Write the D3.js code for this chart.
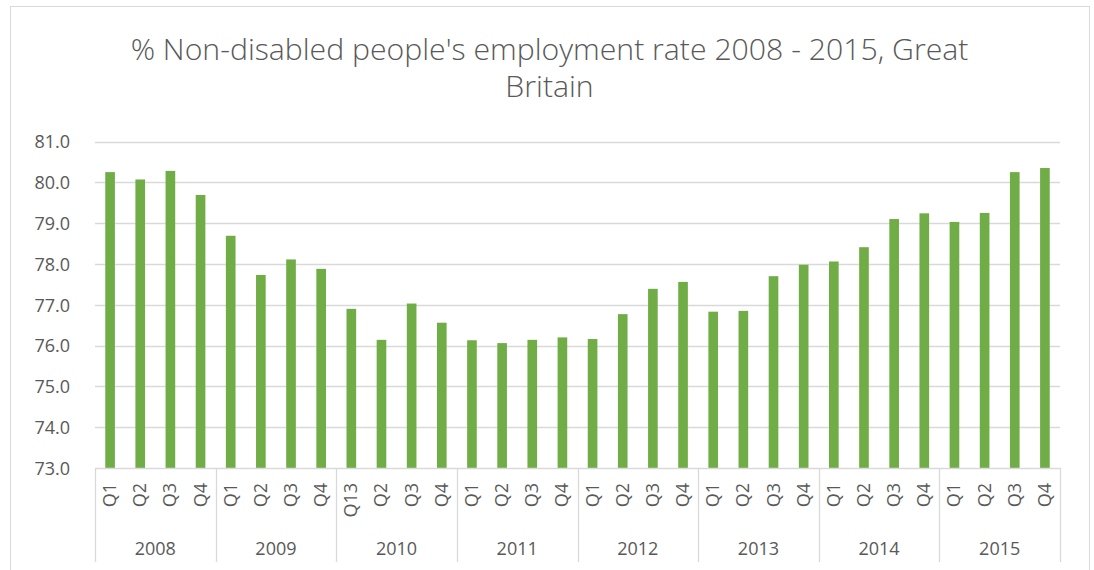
<!DOCTYPE html>
<html>
<head>
<meta charset="utf-8">
<script src="https://cdn.jsdelivr.net/npm/d3@7"></script>
<style>
  html, body { margin: 0; padding: 0; background: #fff; }
  svg { display: block; }
  text { font-family: "Open Sans", "Liberation Sans", sans-serif; fill: #595959; }
</style>
</head>
<body>
<svg id="chart" width="1094" height="570"></svg>
<script>
// Years shown on the outer category axis
const years = ["2008", "2009", "2010", "2011", "2012", "2013", "2014", "2015"];
// Quarter labels on the inner category axis, per year
const quarterLabels = [
  ["Q1", "Q2", "Q3", "Q4"],
  ["Q1", "Q2", "Q3", "Q4"],
  ["Q13", "Q2", "Q3", "Q4"],
  ["Q1", "Q2", "Q3", "Q4"],
  ["Q1", "Q2", "Q3", "Q4"],
  ["Q1", "Q2", "Q3", "Q4"],
  ["Q1", "Q2", "Q3", "Q4"],
  ["Q1", "Q2", "Q3", "Q4"]
];
// Employment rate (%) for non-disabled people, quarter by quarter
const rates = [
  80.25, 80.07, 80.28, 79.69,
  78.69, 77.73, 78.11, 77.88,
  76.90, 76.14, 77.03, 76.56,
  76.13, 76.06, 76.14, 76.20,
  76.16, 76.77, 77.39, 77.56,
  76.83, 76.85, 77.70, 77.98,
  78.06, 78.41, 79.10, 79.24,
  79.03, 79.25, 80.25, 80.35
];
// Value axis ticks
const yTicks = [73, 74, 75, 76, 77, 78, 79, 80, 81];

const titleLines = ["% Non-disabled people's employment rate 2008 - 2015, Great", "Britain"];

const svg = d3.select("#chart");
const W = 1094, H = 570;
const grid = "#d9d9d9";

// chart frame
svg.append("rect")
  .attr("x", 10.5).attr("y", 6.5)
  .attr("width", 1079).attr("height", 600)
  .attr("fill", "none").attr("stroke", grid).attr("stroke-width", 1);

const plot = { left: 95, right: 1060, top: 141.5, bottom: 468 };

const rows = [];
years.forEach((yr, gi) => {
  quarterLabels[gi].forEach((q, qi) => {
    rows.push({ key: yr + "-" + qi, year: yr, q: q, value: rates[gi * 4 + qi] });
  });
});

const x = d3.scaleBand()
  .domain(rows.map(d => d.key))
  .range([plot.left, plot.right])
  .paddingInner(0.68)
  .paddingOuter(0.34);

const y = d3.scaleLinear()
  .domain([73, 81])
  .range([plot.bottom, plot.top]);

// gridlines
svg.append("g")
  .selectAll("line")
  .data(yTicks.filter(t => t !== 73))
  .join("line")
  .attr("x1", plot.left).attr("x2", plot.right)
  .attr("y1", d => Math.round(y(d)) + 0.5)
  .attr("y2", d => Math.round(y(d)) + 0.5)
  .attr("stroke", grid).attr("stroke-width", 1.3);

// y axis labels
const yAxis = d3.axisLeft(y).tickValues(yTicks).tickFormat(d3.format(".1f")).tickSize(0).tickPadding(0);
const gy = svg.append("g").attr("transform", `translate(${plot.left - 25},0)`).call(yAxis);
gy.select(".domain").remove();
gy.selectAll("text")
  .style("font-size", "18px")
  .attr("fill", "#595959")
  .attr("dy", "0.35em");

// bars
svg.append("g")
  .selectAll("rect")
  .data(rows)
  .join("rect")
  .attr("x", d => x(d.key))
  .attr("width", x.bandwidth())
  .attr("y", d => y(d.value))
  .attr("height", d => y(73) - y(d.value))
  .attr("fill", "#70ad47");

// category axis base line
svg.append("line")
  .attr("x1", plot.left).attr("x2", plot.right)
  .attr("y1", plot.bottom + 0.5).attr("y2", plot.bottom + 0.5)
  .attr("stroke", grid).attr("stroke-width", 1.3);

// year group separators
const step = x.step();
const groupEdges = d3.range(years.length + 1).map(i => plot.left + i * 4 * (plot.right - plot.left) / rows.length);
svg.append("g")
  .selectAll("line")
  .data(groupEdges)
  .join("line")
  .attr("x1", d => Math.round(d) + 0.5).attr("x2", d => Math.round(d) + 0.5)
  .attr("y1", plot.bottom).attr("y2", 562)
  .attr("stroke", grid).attr("stroke-width", 1.3);

// quarter labels, rotated
svg.append("g")
  .selectAll("text")
  .data(rows)
  .join("text")
  .attr("transform", d => `translate(${x(d.key) + x.bandwidth() / 2 + 6},483) rotate(-90)`)
  .attr("text-anchor", "end")
  .style("font-size", "18px")
  .text(d => d.q);

// year labels
svg.append("g")
  .selectAll("text")
  .data(years)
  .join("text")
  .attr("x", (d, i) => (groupEdges[i] + groupEdges[i + 1]) / 2)
  .attr("y", 555)
  .attr("text-anchor", "middle")
  .style("font-size", "18px")
  .text(d => d);

// title
const title = svg.append("g");
const t1 = title.append("text")
  .attr("x", 549.5).attr("y", 60)
  .attr("text-anchor", "middle")
  .style("font-size", "28px")
  .style("font-weight", 300)
  .text(titleLines[0]);
const len = t1.node().getComputedTextLength();
const fs = 28 * 838 / len;
t1.style("font-size", fs + "px");
title.append("text")
  .attr("x", 549.5).attr("y", 97)
  .attr("text-anchor", "middle")
  .style("font-size", fs + "px")
  .style("font-weight", 300)
  .text(titleLines[1]);
</script>
</body>
</html>
